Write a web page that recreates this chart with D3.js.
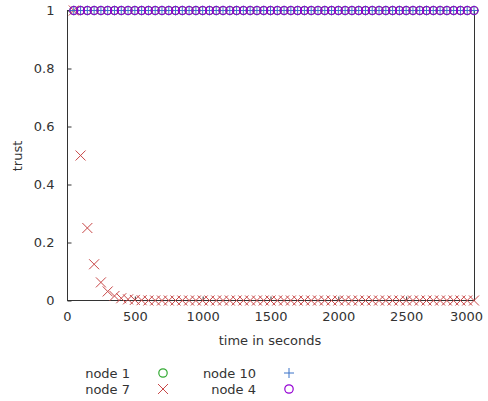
<!DOCTYPE html>
<html><head><meta charset="utf-8">
<script src="https://cdn.jsdelivr.net/npm/d3@7"></script>
<style>
html,body{margin:0;padding:0;background:#fff;}
svg{display:block;font-family:"DejaVu Sans",sans-serif;}
</style></head>
<body><svg id="c" width="488" height="401"></svg>
<script>
const time = [50,100,150,200,250,300,350,400,450,500,550,600,650,700,750,800,850,900,950,1000,
  1050,1100,1150,1200,1250,1300,1350,1400,1450,1500,1550,1600,1650,1700,1750,1800,1850,1900,1950,2000,
  2050,2100,2150,2200,2250,2300,2350,2400,2450,2500,2550,2600,2650,2700,2750,2800,2850,2900,2950,3000];
const node1 = [1,1,1,1,1,1,1,1,1,1,1,1,1,1,1,1,1,1,1,1,1,1,1,1,1,1,1,1,1,1,1,1,1,1,1,1,1,1,1,1,1,1,1,1,1,1,1,1,1,1,1,1,1,1,1,1,1,1,1,1];
const node7 = [1,0.5,0.25,0.125,0.0625,0.03125,0.0156,0.0078,0.0039,0.002,0.001,0,0,0,0,0,0,0,0,0,0,0,0,0,0,0,0,0,0,0,0,0,0,0,0,0,0,0,0,0,0,0,0,0,0,0,0,0,0,0,0,0,0,0,0,0,0,0,0,0];
const node10 = [1,1,1,1,1,1,1,1,1,1,1,1,1,1,1,1,1,1,1,1,1,1,1,1,1,1,1,1,1,1,1,1,1,1,1,1,1,1,1,1,1,1,1,1,1,1,1,1,1,1,1,1,1,1,1,1,1,1,1,1];
const node4 = [1,1,1,1,1,1,1,1,1,1,1,1,1,1,1,1,1,1,1,1,1,1,1,1,1,1,1,1,1,1,1,1,1,1,1,1,1,1,1,1,1,1,1,1,1,1,1,1,1,1,1,1,1,1,1,1,1,1,1,1];
const xTicks = [0,500,1000,1500,2000,2500,3000];
const yTicks = [0,0.2,0.4,0.6,0.8,1];
const seriesNames = ["node 1","node 7","node 10","node 4"];

const colors = {"node 1":"#33aa33","node 7":"#c84848","node 10":"#3a72c8","node 4":"#9400d3"};
const shapes = {"node 1":"circle","node 7":"x","node 10":"plus","node 4":"circle"};
const seriesData = {"node 1":node1,"node 7":node7,"node 10":node10,"node 4":node4};

const svg = d3.select("#c");
const L=67, R=474, T=10.5, B=300.5;
const x = d3.scaleLinear().domain([0,3000]).range([L,R]);
const y = d3.scaleLinear().domain([0,1]).range([B,T]);
const axisCol = "#333";

svg.append("rect").attr("x",L+0.5).attr("y",T).attr("width",R-L).attr("height",B-T)
  .attr("fill","none").attr("stroke",axisCol).attr("stroke-width",1);

const gy = svg.append("g").attr("transform",`translate(${L+0.5},0)`)
  .call(d3.axisLeft(y).tickValues(yTicks).tickSize(-4).tickPadding(13).tickFormat(d=>d3.format("~g")(d)));
const gx = svg.append("g").attr("transform",`translate(0,${B})`)
  .call(d3.axisBottom(x).tickValues(xTicks).tickSize(-4).tickPadding(11).tickFormat(d3.format("d")));
[gx,gy].forEach(g=>{
  g.select(".domain").remove();
  g.selectAll(".tick line").attr("stroke",axisCol);
  g.selectAll(".tick text").attr("fill","#333").style("font-size","13px").style("font-family","DejaVu Sans");
});
gx.selectAll(".tick text").filter(d=>d===3000).attr("dx",-8);

svg.append("text").attr("transform","translate(22,156) rotate(-90)").attr("text-anchor","middle")
  .attr("fill","#333").style("font-size","13px").text("trust");
svg.append("text").attr("x",270).attr("y",345).attr("text-anchor","middle")
  .attr("fill","#333").style("font-size","13px").text("time in seconds");

function drawMarker(g, shape, cx, cy, col, s){
  if(shape==="circle"){
    g.append("circle").attr("cx",cx).attr("cy",cy).attr("r",s)
      .style("fill","none").style("stroke",col).style("stroke-width",1.2);
  } else if(shape==="x"){
    g.append("line").attr("x1",cx-s).attr("y1",cy-s).attr("x2",cx+s).attr("y2",cy+s)
      .style("stroke",col).style("stroke-width",1);
    g.append("line").attr("x1",cx-s).attr("y1",cy+s).attr("x2",cx+s).attr("y2",cy-s)
      .style("stroke",col).style("stroke-width",1);
  } else {
    g.append("line").attr("x1",cx-s).attr("y1",cy).attr("x2",cx+s).attr("y2",cy)
      .style("stroke",col).style("stroke-width",1);
    g.append("line").attr("x1",cx).attr("y1",cy-s).attr("x2",cx).attr("y2",cy+s)
      .style("stroke",col).style("stroke-width",1);
  }
}

const pg = svg.append("g");
seriesNames.forEach(n=>{
  const vals = seriesData[n];
  time.forEach((t,i)=>{
    const s = shapes[n]==="circle" ? 4 : 5;
    drawMarker(pg, shapes[n], x(t), y(vals[i]), colors[n], s);
  });
});

const lg = svg.append("g");
const legendPos = [
  {n:"node 1", tx:130, mx:163, y:373},
  {n:"node 7", tx:130, mx:163, y:389},
  {n:"node 10", tx:256, mx:289, y:373},
  {n:"node 4", tx:256, mx:289, y:389}
];
legendPos.forEach(p=>{
  lg.append("text").attr("x",p.tx).attr("y",p.y).attr("dy","0.35em").attr("text-anchor","end")
    .attr("fill","#333").style("font-size","13px").text(p.n);
  const s = shapes[p.n]==="circle" ? 4.2 : 5;
  drawMarker(lg, shapes[p.n], p.mx, p.y, colors[p.n], s);
});
</script></body></html>
